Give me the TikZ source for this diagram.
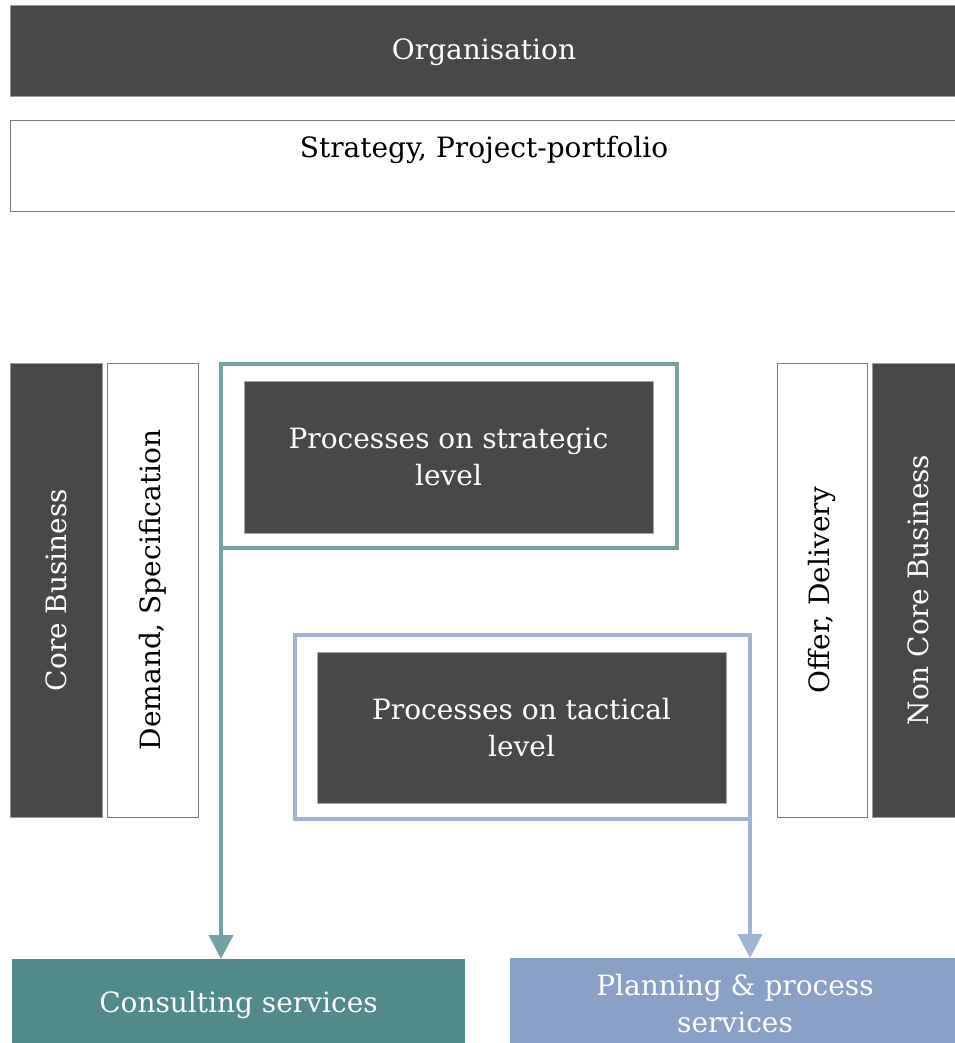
\documentclass[tikz,border=0pt]{standalone}
\usepackage{fontspec}
\setmainfont{DejaVu Serif}
\usetikzlibrary{arrows.meta,positioning,calc}
\definecolor{darkbox}{HTML}{484848}
\definecolor{edgegray}{HTML}{9A9A9A}
\definecolor{tealfill}{HTML}{508A8B}
\definecolor{tealline}{HTML}{73A3A3}
\definecolor{bluefill}{HTML}{88A0C6}
\definecolor{blueline}{HTML}{A0B4D4}

\begin{document}
\begin{tikzpicture}[x=1pt,y=-1pt,font=\fontsize{28}{37}\selectfont,align=center]
\tikzstyle{darkbar}=[fill=darkbox,draw=edgegray,text=white,inner sep=0pt,outer sep=0pt]
\tikzstyle{whitebar}=[fill=white,draw=edgegray!80!black,inner sep=0pt,outer sep=0pt]
\tikzstyle{frame}=[draw,line width=4.5pt,inner sep=0pt,outer sep=0pt]
\tikzstyle{service}=[text=white,inner sep=0pt,outer sep=0pt]
\tikzstyle{flow}=[line width=4pt,-{Triangle[width=24pt,length=24pt]}]

\useasboundingbox (0,0) rectangle (954,1043);

% top bars
\node[darkbar,minimum width=948,minimum height=91,text depth=2pt] (org) at (484,50.5) {Organisation};
\node[whitebar,minimum width=948,minimum height=91,
  label={[anchor=north,yshift=-13pt]north:Strategy, Project-portfolio}] (strat) at (484,165.5) {};

% side columns
\node[darkbar,rotate=90,minimum width=454,minimum height=92] (core) at (56,590) {Core Business};
\node[whitebar,rotate=90,minimum width=454,minimum height=91] (demand) at (152.5,590) {Demand, Specification};
\node[whitebar,rotate=90,minimum width=454,minimum height=90] (offer) at (822,590) {Offer, Delivery};
\node[darkbar,rotate=90,minimum width=454,minimum height=92] (noncore) at (918,590) {Non Core Business};

% process levels
\node[frame,draw=tealline,minimum width=456,minimum height=184] (stratframe) at (449,456) {};
\node[darkbar,draw=gray!70,minimum width=409,minimum height=152] (stratproc) at (448.5,457) {Processes on strategic\\level};
\node[frame,draw=blueline,minimum width=455,minimum height=184] (tactframe) at (522.5,727) {};
\node[darkbar,draw=gray!70,minimum width=409,minimum height=151] (tactproc) at (521.5,727.5) {Processes on tactical\\level};

% services
\node[service,fill=tealfill,minimum width=453,minimum height=92] (cons) at (238.5,1005) {Consulting services};
\node[service,fill=bluefill,minimum width=450,minimum height=92] (plan) at (735,1004) {Planning \& process\\services};

\draw[flow,tealline] (stratframe.south west) -- (stratframe.south west |- cons.north);
\draw[flow,blueline] (tactframe.south east) -- (tactframe.south east |- plan.north);
\end{tikzpicture}
\end{document}
